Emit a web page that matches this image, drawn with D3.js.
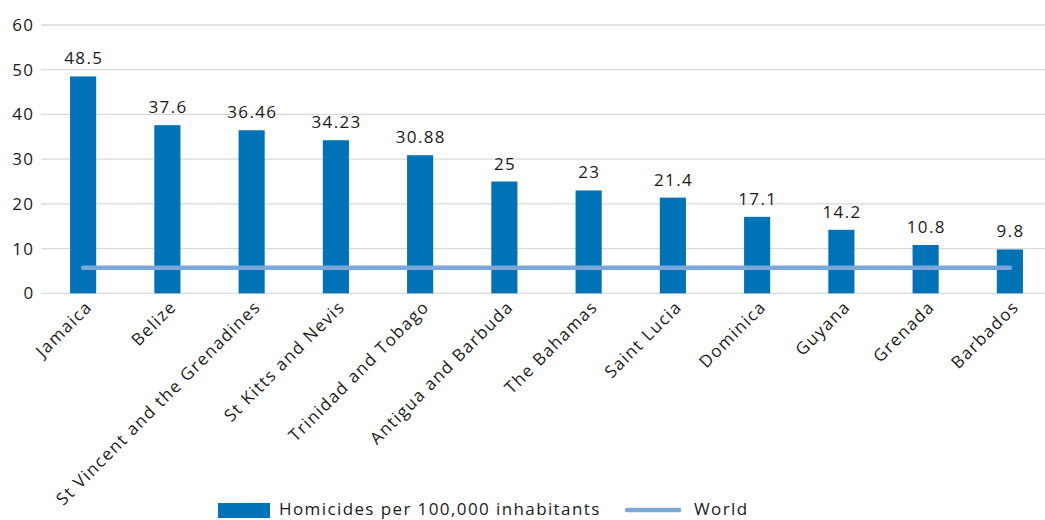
<!DOCTYPE html>
<html>
<head>
<meta charset="utf-8">
<script src="https://cdn.jsdelivr.net/npm/d3@7"></script>
<style>
  html, body { margin: 0; padding: 0; background: #fff; }
  svg { display: block; }
  text { font-family: "Open Sans", sans-serif; fill: #1a1a1a; }
</style>
</head>
<body>
<svg id="chart" width="1045" height="520"></svg>
<script>
// Homicide rates in Caribbean countries compared with the world average
const countries = ["Jamaica", "Belize", "St Vincent and the Grenadines", "St Kitts and Nevis",
  "Trinidad and Tobago", "Antigua and Barbuda", "The Bahamas", "Saint Lucia",
  "Dominica", "Guyana", "Grenada", "Barbados"];
const homicides = [48.5, 37.6, 36.46, 34.23, 30.88, 25, 23, 21.4, 17.1, 14.2, 10.8, 9.8];
const worldRate = 5.7;
const yTicks = [0, 10, 20, 30, 40, 50, 60];
const seriesNames = ["Homicides per 100,000 inhabitants", "World"];

const barColor = "#0072b8";
const worldColor = "#7ba7d9";
const gridColor = "#d9d9d9";
const fontSize = 17;
const spacing = 1.4;

const svg = d3.select("#chart");

const x = d3.scaleBand().domain(countries).range([41, 1052]).paddingInner(0.69).paddingOuter(0.345);
const y = d3.scaleLinear().domain([0, 60]).range([293.3, 25]);

// Gridlines
svg.append("g").selectAll("line").data(yTicks).join("line")
  .attr("x1", 41).attr("x2", 1052)
  .attr("y1", d => y(d)).attr("y2", d => y(d))
  .attr("stroke", gridColor).attr("stroke-width", 1.3);

// Y axis labels
const yAxis = svg.append("g").attr("transform", "translate(34.5,0)")
  .call(d3.axisLeft(y).tickValues(yTicks).tickSize(0).tickPadding(0));
yAxis.select(".domain").remove();
yAxis.selectAll("text").attr("font-size", fontSize).attr("font-family", "Open Sans")
  .attr("fill", "#1a1a1a").attr("letter-spacing", spacing);

// Bars
svg.append("g").selectAll("rect").data(countries).join("rect")
  .attr("x", d => x(d)).attr("width", x.bandwidth())
  .attr("y", (d, i) => y(homicides[i]))
  .attr("height", (d, i) => y(0) - y(homicides[i]))
  .attr("fill", barColor);

// Value labels
svg.append("g").selectAll("text").data(countries).join("text")
  .attr("x", d => x(d) + x.bandwidth() / 2 + spacing / 2)
  .attr("y", (d, i) => y(homicides[i]) - 12)
  .attr("text-anchor", "middle")
  .attr("font-size", fontSize).attr("letter-spacing", spacing)
  .text((d, i) => homicides[i]);

// World average line
const first = countries[0], last = countries[countries.length - 1];
svg.append("line")
  .attr("x1", x(first) + x.bandwidth() / 2).attr("x2", x(last) + x.bandwidth() / 2)
  .attr("y1", y(worldRate)).attr("y2", y(worldRate))
  .attr("stroke", worldColor).attr("stroke-width", 4.5).attr("stroke-linecap", "round");

// Category labels, rotated
svg.append("g").selectAll("text").data(countries).join("text")
  .attr("transform", d => `translate(${x(d) + x.bandwidth() / 2 + 10},${308}) rotate(-45)`)
  .attr("text-anchor", "end")
  .attr("font-size", fontSize).attr("letter-spacing", spacing)
  .text(d => d);

// Legend
const legend = svg.append("g");
legend.append("rect").attr("x", 218).attr("y", 503).attr("width", 52).attr("height", 15).attr("fill", barColor);
legend.append("text").attr("x", 279).attr("y", 515).attr("font-size", fontSize).attr("letter-spacing", spacing).text(seriesNames[0]);
legend.append("line").attr("x1", 627).attr("x2", 679).attr("y1", 510).attr("y2", 510)
  .attr("stroke", worldColor).attr("stroke-width", 4.5).attr("stroke-linecap", "round");
legend.append("text").attr("x", 694).attr("y", 515).attr("font-size", fontSize).attr("letter-spacing", spacing).text(seriesNames[1]);
</script>
</body>
</html>
